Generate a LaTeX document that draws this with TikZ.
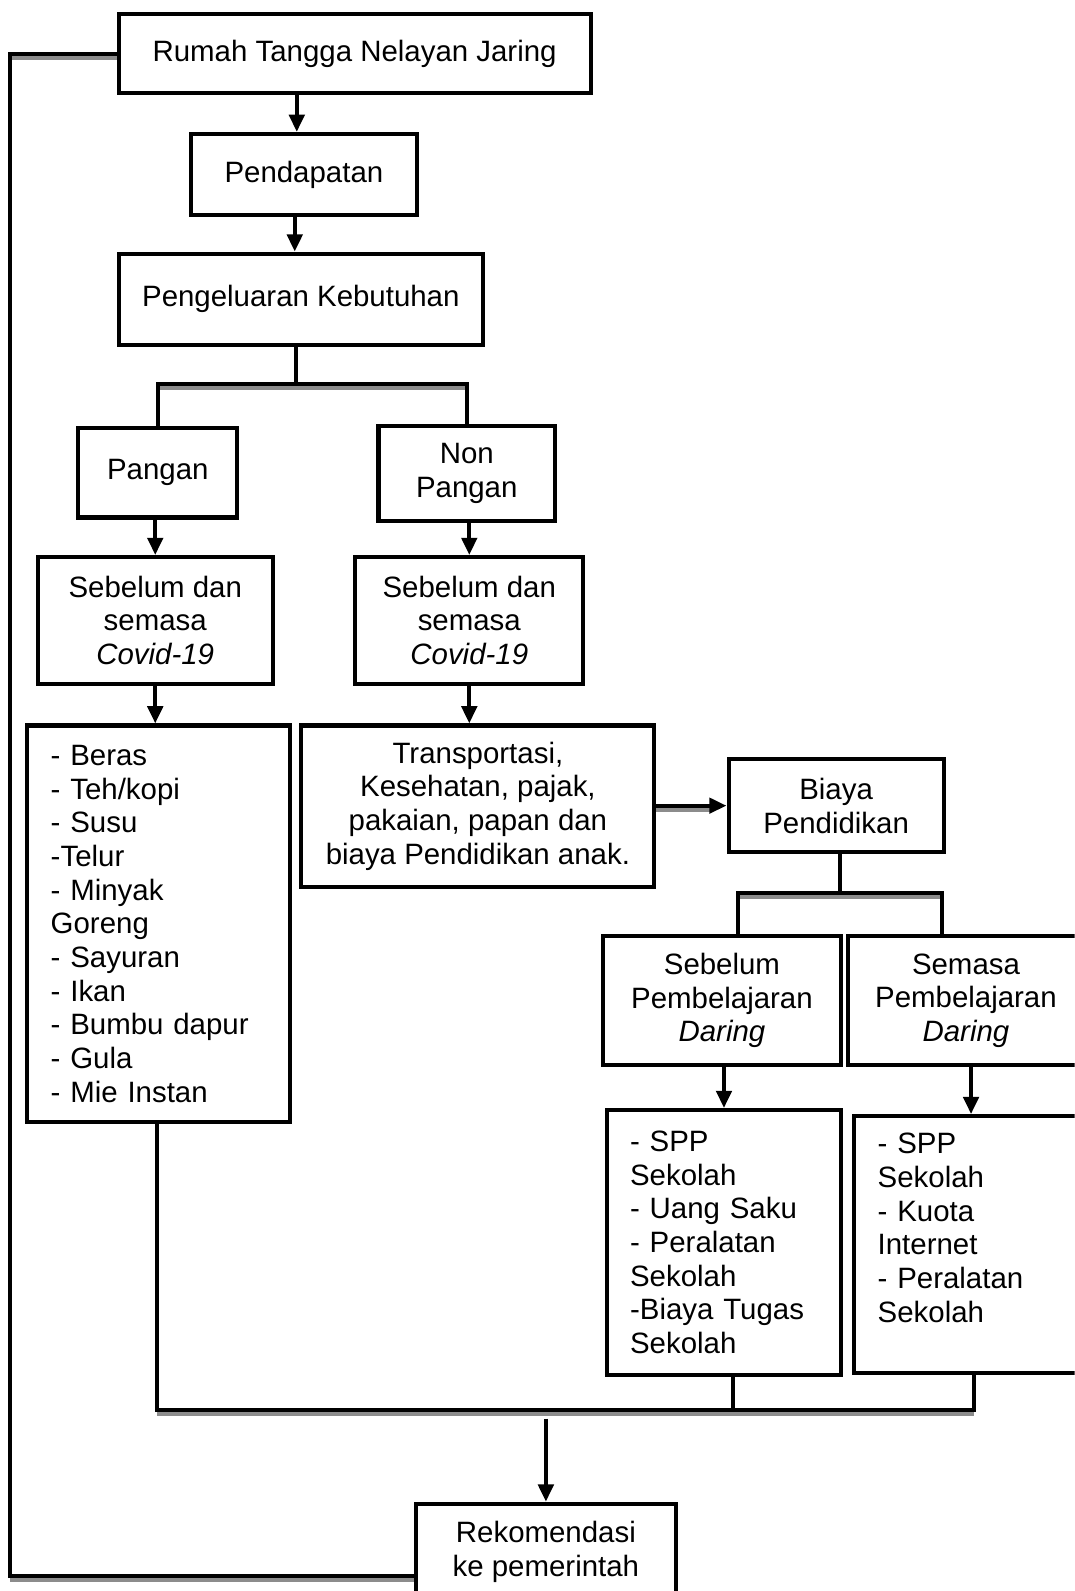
\documentclass[tikz,border=0pt]{standalone}
\usepackage{fontspec}
\setmainfont{Liberation Sans}
\usetikzlibrary{arrows.meta,calc}
\begin{document}
\begin{tikzpicture}[x=1pt,y=-1pt,
  box/.style={draw, line width=4pt, align=center, inner sep=0pt,
    font=\fontsize{29}{33.2}\selectfont},
  conn/.style={line width=4pt},
  arr/.style={line width=4pt, -{Triangle[width=15pt,length=17pt]}},
  shadeline/.style={line width=4pt, draw=black!45}]
\useasboundingbox (0,0) rectangle (1059,1568);
\clip (0,0) rectangle (1059,1568);
\fill[white] (0,0) rectangle (1059,1568);

% nodes
\node[box, minimum width=465pt, minimum height=78pt] (n1) at (349.5,53) {Rumah Tangga Nelayan Jaring};
\node[box, minimum width=223pt, minimum height=80pt] (n2) at (299.5,172) {Pendapatan};
\node[box, minimum width=359pt, minimum height=90pt] (n3) at (296.5,295) {Pengeluaran Kebutuhan};
\node[box, minimum width=157pt, minimum height=88pt] (pangan) at (155.5,466) {Pangan};
\node[box, minimum width=174pt, minimum height=93pt] (nonpangan) at (460,466.5) {Non\\Pangan};
\node[box, minimum width=232pt, minimum height=125pt] (cov1) at (153,611.5) {Sebelum dan\\semasa\\\textit{Covid-19}};
\node[box, minimum width=225pt, minimum height=125pt] (cov2) at (462.5,611.5) {Sebelum dan\\semasa\\\textit{Covid-19}};
\node[box, minimum width=259pt, minimum height=391pt, text width=213pt, align=left] (list) at (156.5,910.5)
  {- Beras\\- Teh/kopi\\- Susu\\-Telur\\- Minyak\\Goreng\\- Sayuran\\- Ikan\\- Bumbu dapur\\- Gula\\- Mie Instan};
\node[box, minimum width=348pt, minimum height=159pt] (trans) at (471,794.5)
  {Transportasi,\\Kesehatan, pajak,\\pakaian, papan dan\\biaya Pendidikan anak.};
\node[box, minimum width=212pt, minimum height=92pt] (biaya) at (824,794) {Biaya\\Pendidikan};
\node[box, minimum width=235pt, minimum height=128pt] (seb) at (711.5,986) {Sebelum\\Pembelajaran\\\textit{Daring}};
\node[box, minimum width=232pt, minimum height=128pt] (sem) at (952,986) {Semasa\\Pembelajaran\\\textit{Daring}};
\node[box, minimum width=231pt, minimum height=261pt, text width=185pt, align=left] (spp1) at (713.5,1224.5)
  {- SPP\\Sekolah\\- Uang Saku\\- Peralatan\\Sekolah\\-Biaya Tugas\\Sekolah};
\node[box, minimum width=238pt, minimum height=253pt, text width=192pt, align=left] (spp2) at (961,1226.5)
  {- SPP\\Sekolah\\- Kuota\\Internet\\- Peralatan\\Sekolah\\\mbox{}};
\node[box, minimum width=256pt, minimum height=95pt] (rek) at (538,1529.5) {Rekomendasi\\ke pemerintah};

% coordinates
\coordinate (lt) at (10,53);
\coordinate (lb) at (10,1553);
\coordinate (b1) at (292,378);
\coordinate (b2) at (828,880);
\coordinate (bl) at (727,880);
\coordinate (br) at (928,880);
\coordinate (m) at (538,1390);
\coordinate (ml) at (155,1390);
\coordinate (mr) at (960,1390);

% shadows
\draw[shadeline] ($(lt)+(0,4)$) -- ($(n1.west |- lt)+(0,4)$);
\draw[shadeline] ($(lb)+(0,4)$) -- ($(lb -| rek.west)+(0,4)$);
\draw[shadeline] ($(pangan.north |- b1)+(0,4)$) -- ($(nonpangan.north |- b1)+(0,4)$);
\draw[shadeline] ($(bl)+(0,4)$) -- ($(br)+(0,4)$);
\draw[shadeline] ($(ml)+(0,4)$) -- ($(mr)+(0,4)$);
\draw[shadeline] ($(trans.east |- biaya.west)+(0,4)$) -- ($(biaya.west)+(-14,4)$);

% connectors
\draw[conn] (n1.west |- lt) -- (lt) -- (lb) -- (lb -| rek.west);
\draw[arr] ([xshift=-7pt]n2.north |- n1.south) -- ([xshift=-7pt]n2.north);
\draw[arr] ([xshift=-9pt]n2.south) -- ([xshift=-9pt]n2.south |- n3.north);
\draw[conn] (n3.south -| b1) -- (b1);
\draw[conn] (pangan.north) -- (pangan.north |- b1) -- (nonpangan.north |- b1) -- (nonpangan.north);
\draw[arr] (cov1.north |- pangan.south) -- (cov1.north);
\draw[arr] (cov2.north |- nonpangan.south) -- (cov2.north);
\draw[arr] (cov1.south) -- (cov1.south |- list.north);
\draw[arr] (cov2.south) -- (cov2.south |- trans.north);
\draw[arr] (trans.east |- biaya.west) -- (biaya.west);
\draw[conn] (biaya.south -| b2) -- (b2);
\draw[conn] (seb.north -| bl) -- (bl) -- (br) -- (sem.north -| br);
\draw[arr] (spp1.north |- seb.south) -- (spp1.north);
\draw[arr] ([xshift=5pt]sem.south) -- ([xshift=5pt]sem.south |- spp2.north);
\draw[conn] (list.south -| ml) -- (ml) -- (mr) -- (spp2.south -| mr);
\draw[conn] (spp1.south -| 722,0) -- (722,1390);
\draw[arr] ($(m)+(0,8)$) -- (rek.north);
\end{tikzpicture}
\end{document}
